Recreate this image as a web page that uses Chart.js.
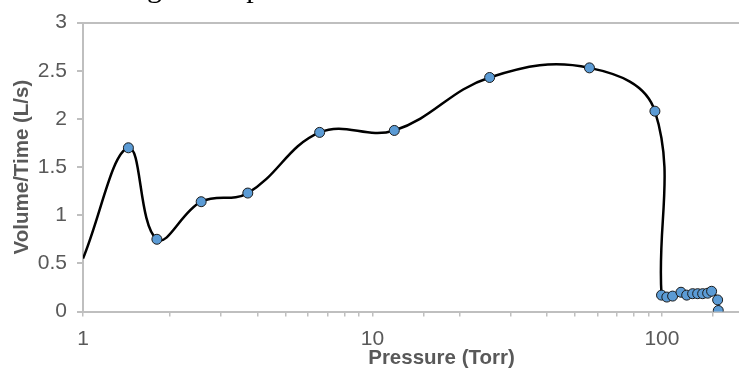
<!DOCTYPE html>
<html>
<head>
<meta charset="utf-8">
<script src="https://cdn.jsdelivr.net/npm/chart.js@4/dist/chart.umd.min.js"></script>
<style>
  html, body { margin: 0; padding: 0; background: #fff; overflow: hidden; }
  /* the picture is a crop: the plot runs on past the right edge */
  #wrap { position: relative; width: 739px; height: 371px; overflow: hidden; }
  #inner { position: absolute; left: 0; top: 0; width: 800px; height: 371px; }
  #caption {
    position: absolute; top: -28px; left: 0;
    font: 30px "Liberation Serif", "Times New Roman", serif;
    line-height: 30px; white-space: nowrap; color: #000;
  }
</style>
</head>
<body>
<div id="wrap">
  <div id="inner"><canvas id="flowChart"></canvas></div>
  <div id="caption"><span id="lead">Flow rate for the entire testin</span>g of the pressure</div>
</div>
<script>
// pressure (Torr) and flow (L/s)
const pressure = [1, 1.435, 1.80, 2.56, 3.71, 6.57, 11.9, 25.4, 56.2, 94.6,
    99.7, 104, 108.9, 116.4, 121.8, 127.7, 132.9, 138.3, 143.9, 148.5, 155.8, 156.6];
const flow = [0.55, 1.70, 0.75, 1.14, 1.23, 1.86, 1.88, 2.43, 2.53, 2.08,
    0.17, 0.15, 0.16, 0.20, 0.17, 0.185, 0.185, 0.185, 0.19, 0.21, 0.12, 0.01];
const xTickLabels = [1, 10, 100];
const yTicks = [0, 0.5, 1, 1.5, 2, 2.5, 3];

const axisGrey = '#bfbfbf';
const textGrey = '#595959';
const sans = '"Liberation Sans", Arial, sans-serif';

// line up the cut-off caption so the "g" of "testing" sits where it does in the picture
function placeCaption() {
    const lead = document.getElementById('lead').getBoundingClientRect().width;
    document.getElementById('caption').style.left = (147 - lead) + 'px';
}

function renderChart() {
    const ctx = document.getElementById('flowChart').getContext('2d');
    new Chart(ctx, {
        type: 'line',
        data: {
            datasets: [{
                data: pressure.map((p, i) => ({ x: p, y: flow[i] })),
                borderColor: '#000',
                borderWidth: 2.5,
                tension: 0.4,
                pointRadius: pressure.map((p, i) => i === 0 ? 0 : 5),
                pointBackgroundColor: '#5b9bd5',
                pointBorderColor: '#1a1a1a',
                pointBorderWidth: 1
            }]
        },
        options: {
            responsive: true,
            maintainAspectRatio: false,
            animation: false,
            layout: { autoPadding: false, padding: { top: 17, right: 0, left: 0, bottom: 0 } },
            plugins: { legend: { display: false }, tooltip: { enabled: false } },
            scales: {
                x: {
                    type: 'logarithmic',
                    min: 1,
                    max: 300,
                    afterFit: s => { s.height = 59.5; s.paddingLeft = 0; s.paddingRight = 0; },
                    border: { color: axisGrey, width: 2 },
                    grid: { color: 'transparent', tickColor: axisGrey, tickLength: 5, lineWidth: 1.5 },
                    ticks: {
                        autoSkip: false,
                        maxRotation: 0,
                        padding: 10,
                        color: textGrey,
                        font: { family: sans, size: 21 },
                        callback: v => xTickLabels.includes(v) ? String(v) : ''
                    },
                    title: {
                        display: true,
                        text: 'Pressure (Torr)',
                        color: textGrey,
                        padding: { top: 0, bottom: 0 },
                        font: { family: sans, size: 20.5, weight: 'bold' }
                    }
                },
                y: {
                    min: 0,
                    max: 3,
                    afterFit: s => { s.width = 83; },
                    afterBuildTicks: s => { s.ticks = yTicks.map(v => ({ value: v })); },
                    border: { color: axisGrey, width: 2 },
                    grid: {
                        color: c => c.tick && c.tick.value === 3 ? axisGrey : 'transparent',
                        lineWidth: 2,
                        tickColor: axisGrey,
                        tickLength: 6
                    },
                    ticks: {
                        padding: 10,
                        color: textGrey,
                        font: { family: sans, size: 21 },
                        callback: v => String(v)
                    },
                    title: {
                        display: true,
                        text: 'Volume/Time (L/s)',
                        color: textGrey,
                        padding: { top: 10, bottom: 0 },
                        font: { family: sans, size: 20.5, weight: 'bold' }
                    }
                }
            }
        }
    });
}

placeCaption();
renderChart();
</script>
</body>
</html>
